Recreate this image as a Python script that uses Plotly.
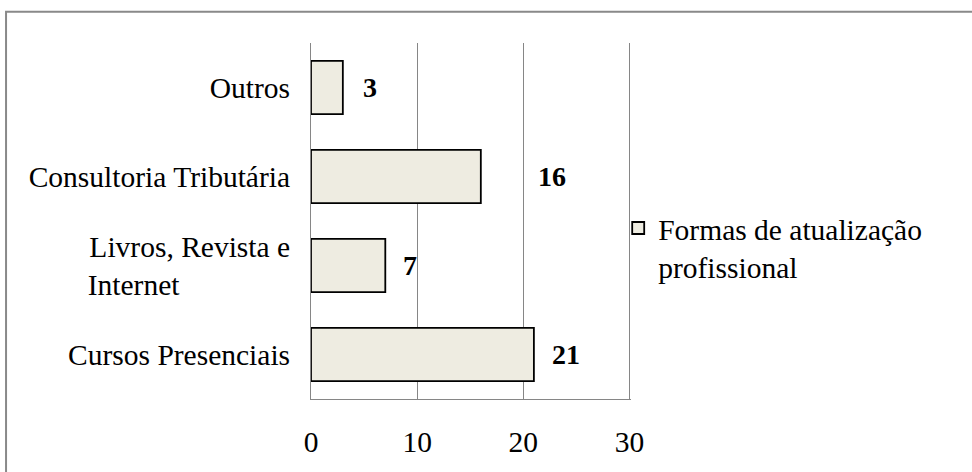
import plotly.graph_objects as go

categories = ["Cursos Presenciais",
              "Livros, Revista e<br>Internet" + "\u00a0" * 15,
              "Consultoria Tributária",
              "Outros"]
values = [21, 7, 16, 3]
series_name = "Formas de atualização<br>profissional"
tick_vals = [0, 10, 20, 30]

# layout-only offsets for the value labels (in axis units)
label_offsets = [3.0, 2.3, 6.7, 2.6]

FONT = "Liberation Serif, Times New Roman, serif"
TXT = 29.5

fig = go.Figure()
fig.add_trace(go.Bar(
    y=categories, x=values, orientation="h", name=series_name,
    marker=dict(color="#EEECE1", line=dict(color="#000000", width=1.8)),
    showlegend=True,
))

for c, v, off in zip(categories, values, label_offsets):
    fig.add_annotation(x=v + off, y=c, xref="x", yref="y", text=f"<b>{v}</b>",
                       showarrow=False, font=dict(family=FONT, size=28, color="black"))

# outer chart border
fig.add_shape(type="rect", xref="paper", yref="paper",
              x0=-0.953, x1=2.2, y0=-0.3, y1=1.088,
              line=dict(color="#898989", width=2), fillcolor="rgba(0,0,0,0)", layer="below")

fig.update_layout(
    width=972, height=472,
    margin=dict(l=311, r=341, t=43, b=73),
    paper_bgcolor="white", plot_bgcolor="white",
    bargap=0.4,
    font=dict(family=FONT, size=TXT, color="black"),
    showlegend=True,
    legend=dict(x=0.96, xanchor="left", y=0.426, yanchor="middle",
                valign="top", font=dict(family=FONT, size=TXT, color="black"),
                bgcolor="rgba(0,0,0,0)"),
    xaxis=dict(range=[0, 30.15], tickvals=tick_vals, showgrid=True, gridcolor="#868686",
               gridwidth=1, showline=True, linecolor="#868686", linewidth=1,
               zeroline=False, ticks="", ticklabelstandoff=17,
               tickfont=dict(family=FONT, size=TXT, color="black")),
    yaxis=dict(showgrid=False, showline=True, linecolor="#868686", linewidth=1,
               ticks="", ticklabelstandoff=14, zeroline=False,
               tickfont=dict(family=FONT, size=TXT, color="black")),
)

fig.write_html("out.html")
